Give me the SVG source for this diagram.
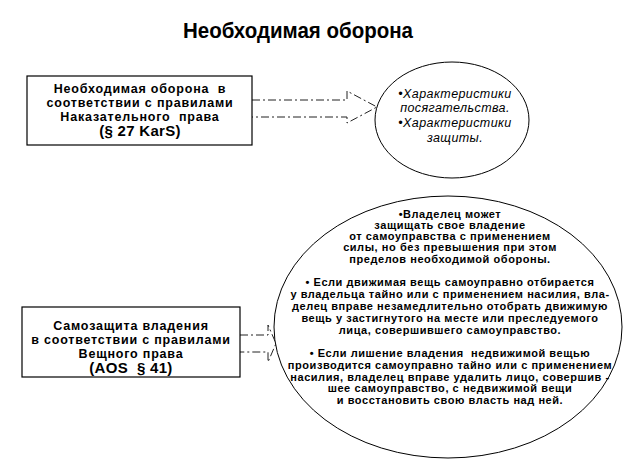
<svg xmlns="http://www.w3.org/2000/svg" width="624" height="469" viewBox="0 0 624 469">
<style>
text{white-space:pre}
.box{fill:#fff;stroke:#000;stroke-width:1.2}
.ell{fill:#fff;stroke:#000;stroke-width:1}
.conn{fill:none;stroke:#222;stroke-width:1;stroke-dasharray:8 3 2 3}
.bt{font-family:"Liberation Sans",Arial,sans-serif;font-weight:bold;font-size:12.5px;letter-spacing:0.8px;text-anchor:middle;fill:#000}
.bl{font-size:15px;letter-spacing:0.3px}
.it{font-family:"Liberation Sans",Arial,sans-serif;font-style:italic;font-size:12.5px;letter-spacing:0.4px;text-anchor:middle;fill:#000}
.et{font-family:"Liberation Sans",Arial,sans-serif;font-weight:bold;font-size:11px;letter-spacing:0.55px;text-anchor:middle;fill:#000}
.title{font-family:"Liberation Sans",Arial,sans-serif;font-weight:bold;font-size:22px;fill:#000}
</style>
<rect width="624" height="469" fill="#fff"/>
<text class="title" x="183" y="38" textLength="230" lengthAdjust="spacingAndGlyphs">Необходимая оборона</text>
<g id="connectors">
<path class="conn" d="M252,100 L347,100 L347,91 L377,107 L347,123 L347,117 L252,117"/>
<path class="conn" d="M240,335 L268,335 L268,325 L276,343.5 L268,362 L268,352 L240,352"/>
</g>
<g id="node-box1">
<rect class="box" x="27" y="76" width="225" height="69"/>
<text class="bt" x="140" y="93">Необходимая оборона  в</text>
<text class="bt" x="140" y="107">соответствии с правилами</text>
<text class="bt" x="140" y="120.5">Наказательного  права</text>
<text class="bt bl" x="140" y="136">(§ 27 KarS)</text>
</g>
<g id="node-ellipse1">
<ellipse class="ell" cx="452" cy="120" rx="77" ry="58"/>
<text class="it" x="455" y="98">•Характеристики</text>
<text class="it" x="455" y="112">посягательства.</text>
<text class="it" x="455" y="127">•Характеристики</text>
<text class="it" x="455" y="142">защиты.</text>
</g>
<g id="node-box2">
<rect class="box" x="22" y="307" width="218" height="70"/>
<text class="bt" x="131" y="330">Самозащита владения</text>
<text class="bt" x="131" y="344">в соответствии с правилами</text>
<text class="bt" x="131" y="357.5">Вещного права</text>
<text class="bt bl" x="131" y="373">(AOS  § 41)</text>
</g>
<g id="node-ellipse2">
<ellipse class="ell" cx="448" cy="327" rx="174" ry="131"/>
<text class="et" x="450" y="218">•Владелец может</text>
<text class="et" x="450" y="229">защищать свое владение</text>
<text class="et" x="450" y="240">от самоуправства с применением</text>
<text class="et" x="450" y="251">силы, но без превышения при этом</text>
<text class="et" x="450" y="263">пределов необходимой обороны.</text>
<text class="et" x="450" y="286">• Если движимая вещь самоуправно отбирается</text>
<text class="et" x="450" y="297.5">у владельца тайно или с применением насилия, вла-</text>
<text class="et" x="450" y="310">делец вправе незамедлительно отобрать движимую</text>
<text class="et" x="450" y="321.5">вещь у застигнутого на месте или преследуемого</text>
<text class="et" x="450" y="334">лица, совершившего самоуправство.</text>
<text class="et" x="450" y="357">• Если лишение владения  недвижимой вещью</text>
<text class="et" x="450" y="369">производится самоуправно тайно или с применением</text>
<text class="et" x="450" y="380.5">насилия, владелец вправе удалить лицо, совершив -</text>
<text class="et" x="450" y="392">шее самоуправство, с недвижимой вещи</text>
<text class="et" x="450" y="403.5">и восстановить свою власть над ней.</text>
</g>
</svg>
